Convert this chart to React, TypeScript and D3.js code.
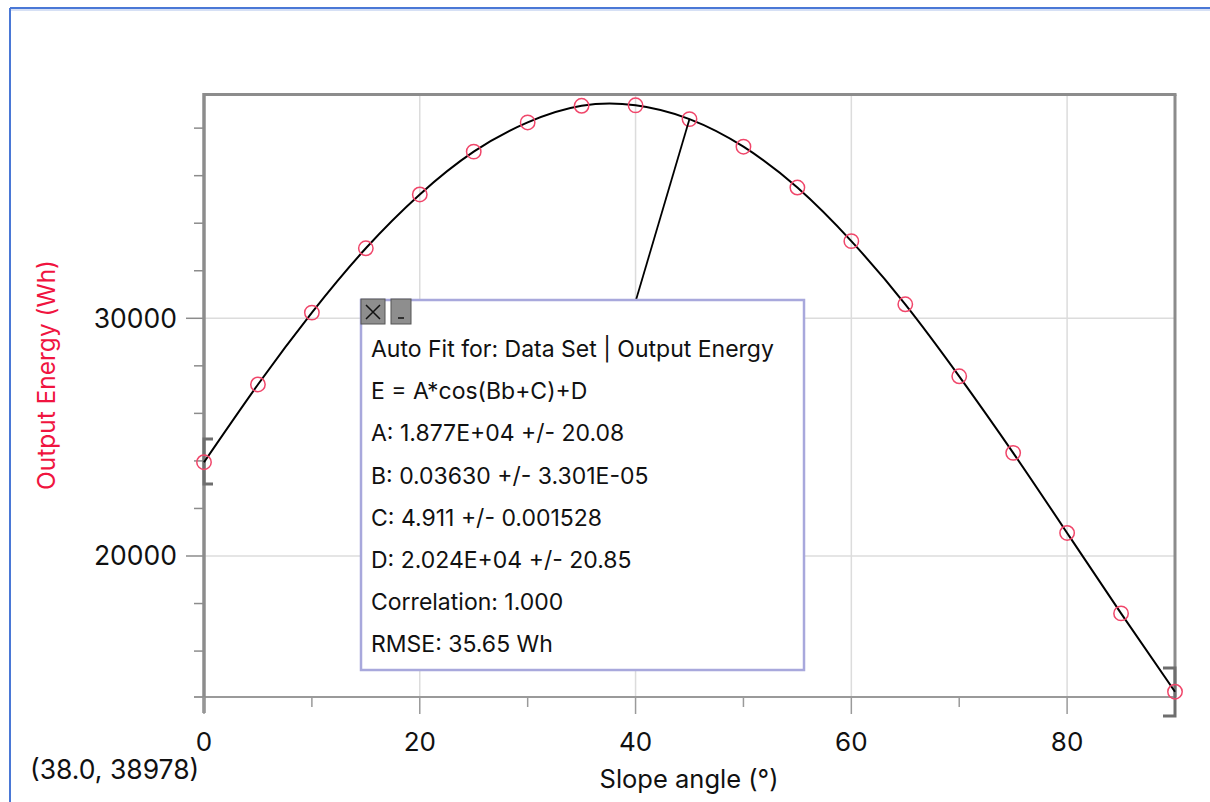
import * as d3 from "d3";

// measured slope angles (deg) and output energy (Wh)
const angles = [0, 5, 10, 15, 20, 25, 30, 35, 40, 45, 50, 55, 60, 65, 70, 75, 80, 85, 90];
const energy = [
  23945, 27215, 30240, 32945, 35210, 37010, 38240, 38940, 38960, 38380,
  37220, 35500, 33245, 30590, 27560, 24340, 20970, 17585, 14290,
];

const xMajor = [0, 20, 40, 60, 80];
const xMinor = [10, 30, 50, 70, 90];
const yMajor = [20000, 30000];
const yMinor = [16000, 18000, 22000, 24000, 26000, 28000, 32000, 34000, 36000, 38000];

const fitLines = [
  "Auto Fit for: Data Set | Output Energy",
  "E = A*cos(Bb+C)+D",
  "A: 1.877E+04 +/- 20.08",
  "B: 0.03630 +/- 3.301E-05",
  "C: 4.911 +/- 0.001528",
  "D: 2.024E+04 +/- 20.85",
  "Correlation: 1.000",
  "RMSE: 35.65 Wh",
];

const W = 1210;
const H = 802;
const FONT = "Inter, 'Liberation Sans', Arial, sans-serif";

export default function App() {
  const left = 204, right = 1175, top = 94.5, bottom = 697;
  const x = d3.scaleLinear().domain([0, 90]).range([left, right]);
  const y = d3.scaleLinear().domain([14068, 39415]).range([bottom, top]);

  const pts: [number, number][] = angles.map((a, i) => [x(a), y(energy[i])]);
  const fitPath = d3.line().curve(d3.curveNatural)(pts) || "";

  const axisGray = "#8c8c8c";
  const grid = "#dcdcdc";
  const red = "#f0466a";

  // fit box
  const bx = 361, by = 300, bw = 443, bh = 370;
  const anchor = pts[9];

  return (
    <svg width={W} height={H} style={{ position: "absolute", left: 0, top: 0, background: "#fff" }}
      fontFamily={FONT}>
      {/* window frame */}
      <line x1={10} y1={8} x2={W} y2={8} stroke="#4a78d6" strokeWidth={2} />
      <line x1={10} y1={8} x2={10} y2={H} stroke="#4a78d6" strokeWidth={2} />
      <line x1={11} y1={10} x2={W} y2={10} stroke="#c9d6f2" strokeWidth={1.5} />

      {/* grid */}
      {xMajor.filter((v) => v > 0).map((v) => (
        <line key={"gx" + v} x1={x(v)} x2={x(v)} y1={top} y2={bottom} stroke={grid} strokeWidth={1.5} />
      ))}
      {yMajor.map((v) => (
        <line key={"gy" + v} x1={left} x2={right} y1={y(v)} y2={y(v)} stroke={grid} strokeWidth={1.5} />
      ))}

      {/* frame */}
      <line x1={left} x2={right + 1.5} y1={top} y2={top} stroke={axisGray} strokeWidth={3} />
      <line x1={right} x2={right} y1={top} y2={bottom} stroke={axisGray} strokeWidth={3} />
      <line x1={194} x2={right} y1={bottom} y2={bottom} stroke="#9a9a9a" strokeWidth={2} />
      <line x1={left} x2={left} y1={top - 1.5} y2={713} stroke={axisGray} strokeWidth={3.5} />

      {/* x ticks */}
      {xMajor.map((v) => (
        <g key={"xt" + v}>
          <line x1={x(v)} x2={x(v)} y1={bottom} y2={714} stroke="#9a9a9a" strokeWidth={1.5} />
          <text x={x(v)} y={751} textAnchor="middle" fontSize={26} fill="#111">{v}</text>
        </g>
      ))}
      {xMinor.map((v) => (
        <line key={"xm" + v} x1={x(v)} x2={x(v)} y1={bottom} y2={707} stroke="#9a9a9a" strokeWidth={1.5} />
      ))}

      {/* y ticks */}
      {yMajor.map((v) => (
        <g key={"yt" + v}>
          <line x1={186} x2={left} y1={y(v)} y2={y(v)} stroke="#8c8c8c" strokeWidth={1.5} />
          <text x={177} y={y(v) + 9.5} textAnchor="end" fontSize={26.5} fill="#111">{v}</text>
        </g>
      ))}
      {yMinor.map((v) => (
        <line key={"ym" + v} x1={194} x2={left} y1={y(v)} y2={y(v)} stroke="#8c8c8c" strokeWidth={1.5} />
      ))}

      {/* fit range brackets */}
      <path d={`M${left + 9},${439} H${left} V${484} H${left + 9}`} fill="none" stroke="#6e6e6e" strokeWidth={3} />
      <path d={`M${right - 12},${668} H${right} V${716} H${right - 12}`} fill="none" stroke="#6e6e6e" strokeWidth={3} />

      {/* fit curve */}
      <path d={fitPath} fill="none" stroke="#000" strokeWidth={2} />

      {/* data points */}
      {pts.map(([px, py], i) => (
        <circle key={"p" + i} cx={px} cy={py} r={7.2} fill="none" stroke={red} strokeWidth={1.5} />
      ))}

      {/* pointer from box to point */}
      <line x1={636} y1={by} x2={anchor[0]} y2={anchor[1]} stroke="#000" strokeWidth={1.8} />

      {/* fit box */}
      <rect x={bx} y={by} width={bw} height={bh} fill="#fff" stroke="#a8a8dc" strokeWidth={2.5} />
      {fitLines.map((t, i) => (
        <text key={"f" + i} x={371} y={357 + i * 42.2} fontSize={23} fill="#111">{t}</text>
      ))}
      {/* close & minimize buttons */}
      <rect x={361} y={299} width={24} height={25} fill="#8e8e8e" stroke="#555" strokeWidth={1} />
      <path d="M366,305 L380,319 M380,305 L366,319" stroke="#111" strokeWidth={1.5} />
      <rect x={391} y={299} width={20} height={25} fill="#8e8e8e" stroke="#555" strokeWidth={1} />
      <line x1={398} x2={404} y1={318} y2={318} stroke="#111" strokeWidth={1.5} />

      {/* axis titles */}
      <text x={689} y={788} textAnchor="middle" fontSize={25.5} fill="#111">Slope angle (°)</text>
      <text transform="translate(55,375) rotate(-90)" textAnchor="middle" fontSize={24.5} fill="#f0143f">
        Output Energy (Wh)
      </text>
      <text x={30} y={779} fontSize={26.5} fill="#111">(38.0, 38978)</text>
    </svg>
  );
}
